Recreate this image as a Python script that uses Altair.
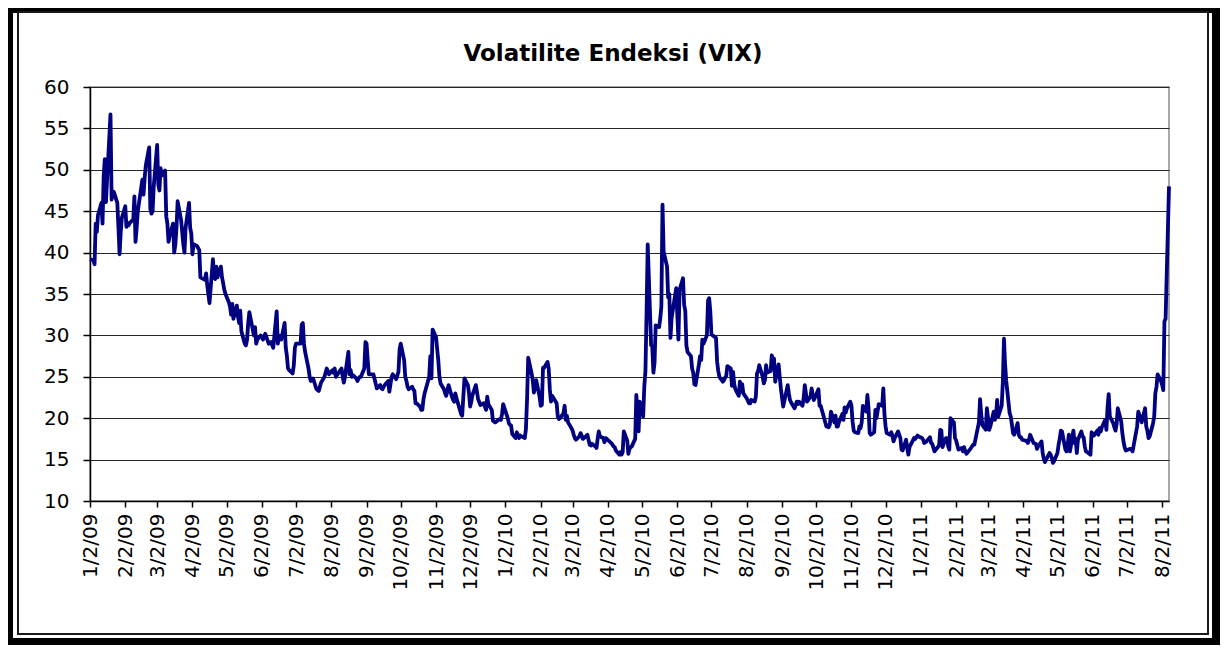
import altair as alt
import pandas as pd

title_text = "Volatilite Endeksi (VIX)"

tick_dates = [
    "2009-01-02", "2009-02-02", "2009-03-02", "2009-04-02", "2009-05-02", "2009-06-02",
    "2009-07-02", "2009-08-02", "2009-09-02", "2009-10-02", "2009-11-02", "2009-12-02",
    "2010-01-02", "2010-02-02", "2010-03-02", "2010-04-02", "2010-05-02", "2010-06-02",
    "2010-07-02", "2010-08-02", "2010-09-02", "2010-10-02", "2010-11-02", "2010-12-02",
    "2011-01-02", "2011-02-02", "2011-03-02", "2011-04-02", "2011-05-02", "2011-06-02",
    "2011-07-02", "2011-08-02",
]
y_ticks = [10, 15, 20, 25, 30, 35, 40, 45, 50, 55, 60]
x_domain = ["2009-01-02", "2011-08-08"]

days_2009 = [
    "01-02", "01-05", "01-06", "01-07", "01-08", "01-09", "01-12", "01-13", "01-14", "01-15", "01-16", "01-20", "01-21", "01-22", "01-23", "01-26", "01-27", "01-28", "01-29", "01-30",
    "02-02", "02-03", "02-04", "02-05", "02-06", "02-09", "02-10", "02-11", "02-12", "02-13", "02-17", "02-18", "02-19", "02-20", "02-23", "02-24", "02-25", "02-26", "02-27",
    "03-02", "03-03", "03-04", "03-05", "03-06", "03-09", "03-10", "03-11", "03-12", "03-13", "03-16", "03-17", "03-18", "03-19", "03-20", "03-23", "03-24", "03-25", "03-26", "03-27", "03-30", "03-31",
    "04-01", "04-02", "04-03", "04-06", "04-08", "04-09", "04-13", "04-14", "04-15", "04-16", "04-17", "04-20", "04-21", "04-22", "04-23", "04-24", "04-27", "04-28", "04-29", "04-30",
    "05-01", "05-04", "05-05", "05-06", "05-07", "05-08", "05-11", "05-12", "05-13", "05-14", "05-15", "05-18", "05-19", "05-20", "05-21", "05-22", "05-26", "05-27", "05-28", "05-29",
    "06-01", "06-03", "06-05", "06-08", "06-10", "06-12", "06-15", "06-16", "06-17", "06-19", "06-22", "06-23", "06-24", "06-25", "06-26", "06-29", "06-30",
    "07-01", "07-02", "07-06", "07-07", "07-08", "07-09", "07-10", "07-13", "07-14", "07-15", "07-17", "07-20", "07-22", "07-24", "07-27", "07-29", "07-31",
    "08-03", "08-04", "08-05", "08-06", "08-07", "08-10", "08-11", "08-12", "08-13", "08-14", "08-17", "08-18", "08-19", "08-20", "08-21", "08-24", "08-25", "08-26", "08-27", "08-28", "08-31",
    "09-01", "09-02", "09-03", "09-04", "09-08", "09-10", "09-11", "09-14", "09-15", "09-16", "09-17", "09-18", "09-21", "09-22", "09-24", "09-25", "09-28", "09-30",
    "10-01", "10-02", "10-05", "10-06", "10-07", "10-08", "10-09", "10-12", "10-13", "10-14", "10-15", "10-16", "10-19", "10-20", "10-21", "10-22", "10-23", "10-26", "10-27", "10-28", "10-29", "10-30",
    "11-02", "11-03", "11-04", "11-05", "11-06", "11-09", "11-10", "11-11", "11-13", "11-16", "11-17", "11-18", "11-19", "11-20", "11-23", "11-24", "11-25", "11-27", "11-30",
    "12-01", "12-02", "12-03", "12-04", "12-07", "12-09", "12-11", "12-14", "12-16", "12-17", "12-18", "12-21", "12-22", "12-24", "12-28", "12-29", "12-30", "12-31",
]
vix_2009 = [
    39.2, 39.1, 38.6, 43.5, 42.5, 44.5, 46.0, 43.5, 49.2, 51.3, 46.1, 56.7, 46.4, 47.4, 47.3, 46.0, 43.0, 39.8, 42.5, 44.2,
    45.6, 43.1, 43.6, 43.3, 43.6, 44.0, 46.8, 41.3, 43.0, 45.0, 48.8, 47.0, 49.0, 50.5, 52.7, 45.3, 44.7, 45.0, 48.0,
    53.0, 48.2, 47.5, 50.2, 49.3, 49.9, 44.4, 43.5, 41.3, 42.0, 43.5, 40.0, 41.0, 43.0, 46.2, 44.0, 42.5, 41.0, 40.0, 43.0, 46.0, 43.0,
    42.3, 39.8, 41.0, 40.8, 40.3, 37.0, 36.7, 37.5, 36.1, 35.0, 33.9, 39.2, 37.3, 36.8, 38.3, 37.0, 38.3, 37.0, 36.3, 35.5,
    35.0, 34.0, 33.5, 32.5, 33.8, 32.0, 33.6, 32.3, 31.5, 33.0, 30.5, 29.0, 28.8, 29.5, 31.5, 32.8, 30.0, 31.0, 29.0, 29.5,
    30.0, 29.5, 30.2, 29.0, 29.2, 28.5, 32.9, 29.0, 30.0, 29.5, 31.5, 28.5, 27.5, 26.0, 25.8, 25.4, 26.3,
    28.5, 29.0, 29.0, 31.3, 31.5, 29.0, 28.0, 26.0, 25.0, 24.5, 24.8, 23.5, 23.3, 24.3, 25.0, 26.0, 25.3,
    25.8, 25.5, 26.0, 25.0, 25.2, 25.8, 26.0, 25.0, 24.3, 25.0, 28.0, 25.3, 25.8, 25.0, 25.2, 24.8, 24.5, 24.8, 25.0, 25.0, 26.0,
    29.2, 29.0, 27.0, 25.3, 25.3, 24.2, 23.6, 24.0, 23.6, 23.5, 23.8, 24.0, 24.5, 23.2, 25.0, 25.3, 24.7, 25.6,
    28.3, 29.0, 27.0, 25.0, 24.5, 23.8, 23.5, 23.8, 23.5, 23.3, 21.8, 21.8, 21.4, 21.0, 21.0, 22.3, 23.0, 24.5, 25.0, 27.5, 24.8, 30.7,
    29.8, 28.4, 27.0, 25.0, 24.2, 23.5, 23.0, 22.7, 24.0, 22.6, 22.2, 22.0, 23.0, 22.4, 21.0, 20.5, 20.3, 24.8, 24.0,
    23.0, 21.4, 22.0, 22.8, 24.0, 22.3, 21.6, 21.8, 21.0, 22.6, 21.7, 21.0, 19.7, 19.5, 19.9, 19.8, 20.5, 21.7,
]

days_2010 = [
    "01-04", "01-05", "01-06", "01-07", "01-08", "01-11", "01-12", "01-13", "01-14", "01-15", "01-19", "01-20", "01-21", "01-22", "01-25", "01-26", "01-27", "01-28", "01-29",
    "02-01", "02-02", "02-03", "02-04", "02-05", "02-08", "02-09", "02-10", "02-11", "02-12", "02-16", "02-17", "02-18", "02-19", "02-22", "02-23", "02-24", "02-25", "02-26",
    "03-01", "03-02", "03-03", "03-04", "03-05", "03-08", "03-09", "03-10", "03-11", "03-12", "03-15", "03-16", "03-17", "03-18", "03-19", "03-22", "03-23", "03-24", "03-25", "03-26", "03-29", "03-30", "03-31",
    "04-01", "04-05", "04-06", "04-07", "04-08", "04-09", "04-12", "04-13", "04-14", "04-15", "04-16", "04-19", "04-20", "04-21", "04-22", "04-23", "04-26", "04-27", "04-28", "04-29", "04-30",
    "05-03", "05-04", "05-05", "05-06", "05-07", "05-10", "05-11", "05-12", "05-13", "05-14", "05-17", "05-18", "05-19", "05-20", "05-21", "05-24", "05-25", "05-26", "05-27", "05-28",
    "06-01", "06-02", "06-03", "06-04", "06-07", "06-08", "06-09", "06-10", "06-11", "06-14", "06-15", "06-16", "06-17", "06-18", "06-21", "06-22", "06-23", "06-24", "06-25", "06-28", "06-29", "06-30",
    "07-01", "07-02", "07-06", "07-07", "07-08", "07-09", "07-12", "07-13", "07-14", "07-15", "07-16", "07-19", "07-20", "07-21", "07-22", "07-23", "07-26", "07-27", "07-28", "07-29", "07-30",
    "08-02", "08-03", "08-04", "08-05", "08-06", "08-09", "08-10", "08-11", "08-12", "08-13", "08-16", "08-17", "08-18", "08-19", "08-20", "08-23", "08-24", "08-25", "08-26", "08-27", "08-30", "08-31",
    "09-01", "09-02", "09-03", "09-07", "09-08", "09-09", "09-10", "09-13", "09-14", "09-15", "09-16", "09-17", "09-20", "09-21", "09-22", "09-23", "09-24", "09-27", "09-28", "09-29", "09-30",
    "10-01", "10-04", "10-05", "10-06", "10-07", "10-08", "10-11", "10-12", "10-13", "10-14", "10-15", "10-18", "10-19", "10-20", "10-21", "10-22", "10-25", "10-26", "10-27", "10-28", "10-29",
    "11-01", "11-02", "11-03", "11-04", "11-05", "11-08", "11-09", "11-10", "11-11", "11-12", "11-15", "11-16", "11-17", "11-18", "11-19", "11-22", "11-23", "11-24", "11-26", "11-29", "11-30",
    "12-01", "12-02", "12-03", "12-06", "12-07", "12-08", "12-09", "12-10", "12-13", "12-14", "12-15", "12-16", "12-17", "12-20", "12-21", "12-22", "12-23", "12-27", "12-28", "12-30", "12-31",
]
vix_2010 = [
    20.0, 19.4, 19.2, 19.1, 18.1, 17.6, 18.3, 17.9, 17.6, 17.9, 17.6, 18.7, 22.3, 27.3, 25.4, 24.6, 23.1, 23.7, 24.6,
    22.6, 21.5, 21.6, 26.1, 26.1, 26.8, 26.0, 23.5, 22.0, 22.7, 21.8, 20.2, 19.9, 20.0, 20.6, 21.5, 19.8, 20.3, 19.5,
    18.8, 18.5, 18.0, 17.6, 17.4, 17.8, 18.2, 17.9, 17.5, 17.6, 18.0, 17.4, 16.8, 16.7, 16.9, 16.6, 16.4, 17.5, 18.4, 17.8, 17.6, 17.1, 17.6,
    17.5, 17.0, 16.8, 16.6, 16.5, 16.1, 15.6, 15.9, 15.6, 15.9, 18.4, 17.3, 15.7, 16.3, 16.5, 16.6, 17.5, 22.8, 21.1, 18.4, 22.0,
    20.2, 23.8, 25.7, 32.8, 41.0, 28.8, 28.7, 25.5, 26.7, 31.2, 31.0, 32.0, 33.5, 45.8, 40.1, 38.3, 34.6, 35.0, 29.7, 32.1,
    35.7, 32.5, 29.5, 35.5, 36.9, 33.7, 33.0, 28.8, 28.0, 27.5, 26.0, 25.5, 24.1, 24.0, 26.5, 27.5, 27.0, 29.5, 29.0, 30.0, 34.2, 34.5,
    32.9, 30.1, 29.7, 26.8, 25.7, 25.0, 24.4, 24.6, 24.9, 25.1, 26.3, 26.0, 23.9, 25.6, 24.1, 23.5, 22.7, 24.4, 23.2, 24.1, 23.0,
    22.4, 22.1, 21.8, 21.8, 22.2, 22.0, 22.6, 25.4, 25.7, 26.4, 25.0, 24.2, 24.6, 26.4, 25.5, 25.7, 27.6, 26.8, 27.2, 24.4, 26.5, 25.0,
    23.6, 22.5, 21.4, 24.0, 23.0, 22.2, 21.9, 21.2, 21.6, 22.0, 21.7, 22.0, 21.5, 22.4, 24.0, 23.0, 22.0, 22.6, 23.6, 22.8, 22.2,
    22.5, 23.5, 21.5, 21.5, 21.0, 20.5, 19.0, 19.1, 18.9, 19.2, 20.8, 19.5, 20.3, 19.0, 19.0, 19.5, 20.5, 19.8, 21.3, 20.7, 21.2,
    22.0, 21.5, 19.6, 18.5, 18.3, 18.2, 19.0, 18.8, 19.5, 21.5, 20.8, 22.8, 21.2, 18.2, 18.0, 18.3, 21.0, 20.0, 21.7, 21.5, 23.6,
    20.5, 19.0, 18.2, 18.0, 18.3, 17.9, 17.2, 17.6, 18.4, 18.0, 17.6, 16.2, 16.1, 17.4, 16.4, 15.6, 16.5, 17.6, 17.5, 17.9, 17.8,
]

days_2011 = [
    "01-03", "01-04", "01-05", "01-07", "01-10", "01-11", "01-12", "01-14", "01-18", "01-19", "01-20", "01-21", "01-24", "01-25", "01-26", "01-27", "01-28", "01-31",
    "02-01", "02-02", "02-04", "02-07", "02-08", "02-09", "02-10", "02-11", "02-14", "02-15", "02-17", "02-18", "02-22", "02-23", "02-24", "02-25", "02-28",
    "03-01", "03-02", "03-03", "03-04", "03-07", "03-08", "03-09", "03-10", "03-11", "03-14", "03-15", "03-16", "03-17", "03-18", "03-21", "03-22", "03-24", "03-25", "03-28", "03-29", "03-30", "03-31",
    "04-01", "04-04", "04-05", "04-06", "04-07", "04-08", "04-11", "04-13", "04-14", "04-15", "04-18", "04-19", "04-20", "04-21", "04-25", "04-26", "04-27", "04-28", "04-29",
    "05-02", "05-03", "05-04", "05-05", "05-06", "05-09", "05-10", "05-11", "05-12", "05-13", "05-16", "05-17", "05-18", "05-19", "05-20", "05-23", "05-24", "05-25", "05-26", "05-27", "05-31",
    "06-01", "06-02", "06-03", "06-06", "06-07", "06-08", "06-09", "06-10", "06-13", "06-14", "06-15", "06-16", "06-17", "06-20", "06-21", "06-22", "06-23", "06-24", "06-27", "06-28", "06-29", "06-30",
    "07-01", "07-05", "07-06", "07-07", "07-11", "07-12", "07-14", "07-15", "07-18", "07-19", "07-20", "07-21", "07-22", "07-25", "07-26", "07-27", "07-28", "07-29",
    "08-01", "08-02", "08-03", "08-04", "08-05", "08-08",
]
vix_2011 = [
    17.6, 17.4, 17.0, 17.2, 17.7, 17.0, 16.9, 16.0, 16.7, 18.6, 18.5, 16.5, 17.6, 17.6, 16.6, 16.2, 20.0, 19.5,
    17.6, 17.3, 16.2, 16.4, 16.0, 16.5, 16.0, 15.7, 16.2, 16.4, 16.8, 16.8, 19.5, 22.3, 20.5, 19.2, 18.6,
    21.2, 20.0, 18.6, 19.0, 20.8, 19.8, 20.2, 22.2, 20.2, 21.5, 24.3, 29.6, 26.5, 24.5, 20.6, 20.2, 18.2, 18.0, 19.4, 18.0, 17.7, 17.7,
    17.4, 17.3, 17.2, 17.0, 17.4, 18.0, 17.0, 16.9, 16.3, 16.6, 17.2, 15.8, 15.1, 14.7, 15.8, 15.6, 15.2, 14.6, 14.8,
    15.8, 16.8, 17.5, 18.5, 18.4, 16.2, 16.0, 16.8, 18.0, 16.0, 18.5, 17.0, 17.5, 15.8, 17.4, 18.4, 17.8, 17.7, 16.6, 16.0, 15.6,
    18.3, 18.1, 17.9, 18.5, 18.0, 18.8, 18.4, 18.9, 19.8, 18.6, 21.3, 22.9, 20.2, 19.4, 18.9, 18.5, 19.3, 21.2, 19.6, 18.2, 17.2, 16.5,
    16.1, 16.3, 16.2, 16.0, 19.0, 20.8, 20.0, 19.5, 21.2, 19.0, 18.5, 17.6, 17.8, 19.4, 20.2, 23.0, 23.8, 25.3,
    24.5, 24.0, 23.4, 31.7, 32.0, 48.0,
]

rows = []
for year, days, vals in ((2009, days_2009, vix_2009), (2010, days_2010, vix_2010), (2011, days_2011, vix_2011)):
    assert len(days) == len(vals), (year, len(days), len(vals))
    rows += [{"date": f"{year}-{d}", "vix": v} for d, v in zip(days, vals)]
df = pd.DataFrame(rows)


def dt(s):
    y, m, d = (int(p) for p in s.split("-"))
    return alt.DateTime(year=y, month=m, date=d, utc=True)


FONT = "DejaVu Sans"
W, H = 1079, 414          # plot area
PL, PT = 82, 79           # plot origin inside canvas
CW, CH = 1212, 637        # canvas size

one = alt.Data(values=[{"k": 1}])


def bar(x1, x2, y1, y2):
    return alt.Chart(one).mark_rect(color="black").encode(
        x=alt.value(x1), x2=alt.value(x2), y=alt.value(y1), y2=alt.value(y2)
    )


outer = [
    bar(-PL, -PL + 5, -PT, CH - PT),
    bar(-PL, CW - PL, -PT, -PT + 5),
    bar(CW - PL - 8, CW - PL, -PT, CH - PT),
    bar(-PL, CW - PL, CH - PT - 7, CH - PT),
]

inner = alt.Chart(one).mark_rect(fillOpacity=0, stroke="#1a1a1a", strokeWidth=2).encode(
    x=alt.value(18 - 90), x2=alt.value(1208 - 90), y=alt.value(12 - 87), y2=alt.value(634 - 87)
)

title = alt.Chart(one).mark_text(
    text=title_text, font=FONT, fontSize=23, fontWeight="bold",
    align="center", baseline="alphabetic", color="black",
).encode(x=alt.value(613 - 90), y=alt.value(61 - 87))

line = alt.Chart(df).mark_line(color="#000080", strokeWidth=3.8, strokeJoin="round").encode(
    x=alt.X(
        "date:T",
        scale=alt.Scale(type="utc", domain=[dt(x_domain[0]), dt(x_domain[1])]),
        axis=alt.Axis(
            values=[dt(s) for s in tick_dates],
            labelExpr="utcFormat(datum.value, '%-m/%-d/%y')",
            labelAngle=270, labelPadding=6, tickSize=6, grid=False,
            labelOverlap=False, labelFlush=False, labelBound=False,
            domainColor="black", domainWidth=1.5, tickColor="black", tickWidth=1.5,
        ),
        title=None,
    ),
    y=alt.Y(
        "vix:Q",
        scale=alt.Scale(domain=[10, 60], nice=False, zero=False),
        axis=alt.Axis(
            values=y_ticks, grid=True, gridColor="#262626", gridWidth=1,
            tickSize=7, labelPadding=14, domainColor="black", domainWidth=1.5,
            tickColor="black", tickWidth=1.5,
        ),
        title=None,
    ),
)

chart = alt.layer(*outer, inner, title, line).properties(
    width=W, height=H,
    autosize=alt.AutoSizeParams(type="none"),
    padding={"left": PL, "top": PT, "right": CW - PL - W, "bottom": CH - PT - H},
    background="white",
).configure_view(stroke="#8c8c8c", strokeWidth=1.5).configure_axis(
    labelFont=FONT, labelFontSize=20, labelColor="black"
)

chart.save("out.html", embed_options={"renderer": "svg", "actions": False})
